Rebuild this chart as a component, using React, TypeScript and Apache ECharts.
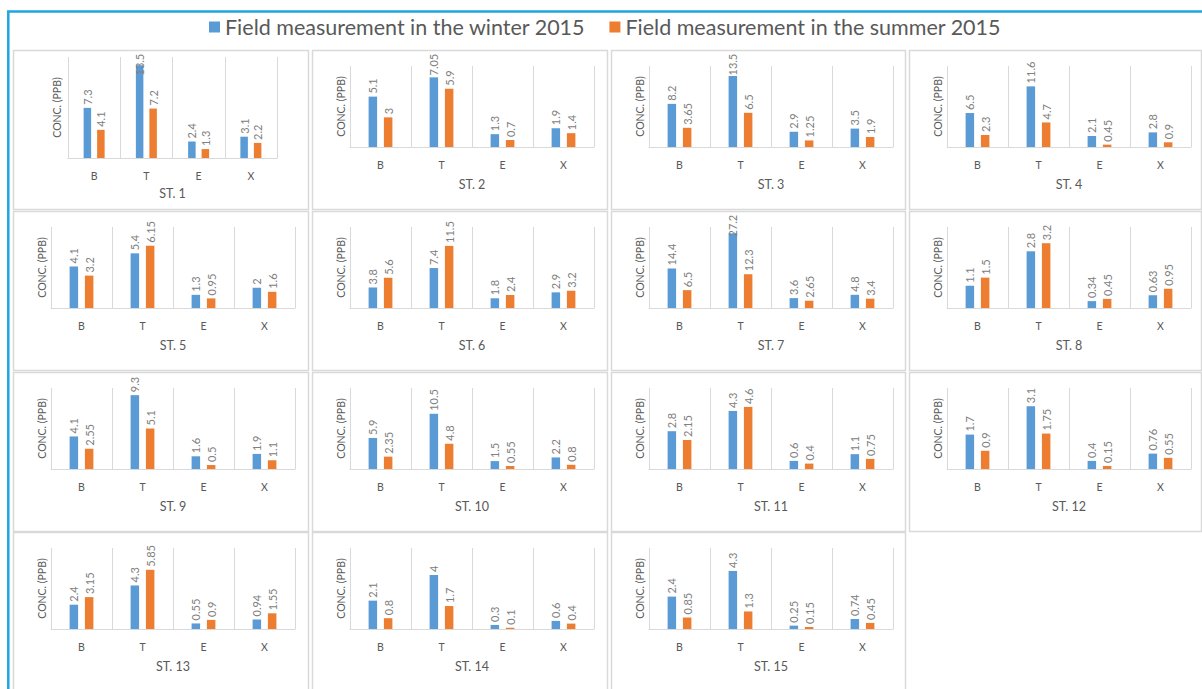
import React, { useEffect, useRef } from 'react';
import * as echarts from 'echarts';

const categories = ['B', 'T', 'E', 'X'];
const stationNames = [
  'ST. 1', 'ST. 2', 'ST. 3', 'ST. 4', 'ST. 5', 'ST. 6', 'ST. 7', 'ST. 8',
  'ST. 9', 'ST. 10', 'ST. 11', 'ST. 12', 'ST. 13', 'ST. 14', 'ST. 15',
];
const seriesNames = [
  'Field measurement in the winter 2015',
  'Field measurement in the summer 2015',
];
// values per station for B, T, E, X
const winter = [
  [7.3, 13.5, 2.4, 3.1],
  [5.1, 7.05, 1.3, 1.9],
  [8.2, 13.5, 2.9, 3.5],
  [6.5, 11.6, 2.1, 2.8],
  [4.1, 5.4, 1.3, 2],
  [3.8, 7.4, 1.8, 2.9],
  [14.4, 27.2, 3.6, 4.8],
  [1.1, 2.8, 0.34, 0.63],
  [4.1, 9.3, 1.6, 1.9],
  [5.9, 10.5, 1.5, 2.2],
  [2.8, 4.3, 0.6, 1.1],
  [1.7, 3.1, 0.4, 0.76],
  [2.4, 4.3, 0.55, 0.94],
  [2.1, 4, 0.3, 0.6],
  [2.4, 4.3, 0.25, 0.74],
];
const summer = [
  [4.1, 7.2, 1.3, 2.2],
  [3, 5.9, 0.7, 1.4],
  [3.65, 6.5, 1.25, 1.9],
  [2.3, 4.7, 0.45, 0.9],
  [3.2, 6.15, 0.95, 1.6],
  [5.6, 11.5, 2.4, 3.2],
  [6.5, 12.3, 2.65, 3.4],
  [1.5, 3.2, 0.45, 0.95],
  [2.55, 5.1, 0.5, 1.1],
  [2.35, 4.8, 0.55, 0.8],
  [2.15, 4.6, 0.4, 0.75],
  [0.9, 1.75, 0.15, 0.55],
  [3.15, 5.85, 0.9, 1.55],
  [0.8, 1.7, 0.1, 0.4],
  [0.85, 1.3, 0.15, 0.45],
];
const yAxisMax = [14.7, 8.2, 15.4, 15.5, 8, 15, 29.5, 4, 10.2, 15.4, 6, 4, 8, 6, 6];
const yAxisName = 'CONC. (PPB)';

const BLUE = '#5B9BD5';
const ORANGE = '#ED7D31';
const FONT = 'Lato, "Open Sans", sans-serif';
const GRID_GRAY = '#d9d9d9';
const TEXT_GRAY = '#595959';
const LABEL_GRAY = '#808080';

const colX = [13, 312, 611, 909];
const colW = [295, 295, 294, 292];
const rowY = [50, 211, 372, 532];
const PANEL_H = 159;

function panelLayout(i: number) {
  const c = i % 4;
  const r = Math.floor(i / 4);
  const x0 = colX[c];
  const y0 = rowY[r];
  if (i === 0) {
    return { c, r, x0, y0, left: 68, top: 57, width: 209, height: 101, nameGap: 6, barWidth: 7.5, catMargin: 12, titleGap: 29 };
  }
  return { c, r, x0, y0, left: x0 + 38, top: y0 + 16, width: 244, height: 81, nameGap: 4, barWidth: 8.5, catMargin: 12, titleGap: 31 };
}

function labelLength(v: number) {
  const s = String(v);
  let w = 0;
  for (const ch of s) w += ch === '.' ? 2.9 : 6.2;
  return w;
}

function buildOption() {
  const grid: any[] = [];
  const xAxis: any[] = [];
  const yAxis: any[] = [];
  const series: any[] = [];
  const graphic: any[] = [];

  for (let i = 0; i < stationNames.length; i++) {
    const L = panelLayout(i);
    graphic.push({
      type: 'rect',
      shape: { x: L.x0 + 0.5, y: L.y0 + 0.5, width: colW[L.c], height: PANEL_H },
      style: { fill: 'none', stroke: GRID_GRAY, lineWidth: 1.5 },
      silent: true,
      z: -1,
    });
    grid.push({ left: L.left, top: L.top, width: L.width, height: L.height });
    xAxis.push({
      type: 'category',
      gridIndex: i,
      data: categories,
      axisLine: { show: true, lineStyle: { color: GRID_GRAY, width: 1 } },
      axisTick: { show: false },
      splitLine: { show: true, interval: 0, lineStyle: { color: GRID_GRAY, width: 1 } },
      axisLabel: { fontSize: 10.5, color: TEXT_GRAY, margin: L.catMargin, fontFamily: FONT, interval: 0 },
      name: stationNames[i],
      nameLocation: 'middle',
      nameGap: L.titleGap,
      nameTextStyle: { fontSize: 12.5, color: TEXT_GRAY, fontFamily: FONT },
    });
    const max = yAxisMax[i];
    yAxis.push({
      type: 'value',
      gridIndex: i,
      min: 0,
      max,
      axisLine: { show: false },
      axisTick: { show: false },
      axisLabel: { show: false },
      splitLine: { show: false },
      name: yAxisName,
      nameLocation: 'middle',
      nameGap: L.nameGap,
      nameRotate: 90,
      nameTextStyle: { fontSize: 10.5, color: TEXT_GRAY, fontFamily: FONT },
    });
    [winter[i], summer[i]].forEach((vals, k) => {
      series.push({
        type: 'bar',
        name: seriesNames[k],
        xAxisIndex: i,
        yAxisIndex: i,
        barWidth: L.barWidth,
        barGap: '80%',
        itemStyle: { color: k === 0 ? BLUE : ORANGE },
        label: {
          show: true,
          position: 'top',
          distance: 3,
          rotate: 90,
          align: 'left',
          verticalAlign: 'middle',
          fontSize: 11,
          color: LABEL_GRAY,
          fontFamily: FONT,
        },
        data: vals.map((v) => {
          const barTop = L.top + L.height * (1 - v / max);
          const labelTop = barTop - 3 - labelLength(v);
          const limit = L.y0 + 4;
          const shift = Math.max(0, limit - labelTop);
          return shift > 0 ? { value: v, label: { offset: [-shift, 0] } } : v;
        }),
      });
    });
  }

  graphic.push({
    type: 'rect',
    shape: { x: 8.3, y: 11.6, width: 1400, height: 900 },
    style: { fill: 'none', stroke: '#1FA5E2', lineWidth: 2.5 },
    silent: true,
    z: 10,
  });

  return {
    animation: false,
    backgroundColor: '#ffffff',
    textStyle: { fontFamily: FONT },
    legend: {
      data: seriesNames,
      left: 204,
      top: 11,
      icon: 'rect',
      itemWidth: 11,
      itemHeight: 11,
      itemGap: 24,
      textStyle: { fontSize: 21.5, color: TEXT_GRAY, fontFamily: FONT },
    },
    grid,
    xAxis,
    yAxis,
    series,
    graphic,
  };
}

export default function App() {
  const ref = useRef<HTMLDivElement>(null);
  useEffect(() => {
    if (!ref.current) return;
    const chart = echarts.init(ref.current, null, { renderer: 'svg' });
    chart.setOption(buildOption() as any);
    return () => chart.dispose();
  }, []);
  return (
    <div
      ref={ref}
      style={{ position: 'absolute', left: 0, top: 0, width: 1202, height: 689, background: '#fff' }}
    />
  );
}
